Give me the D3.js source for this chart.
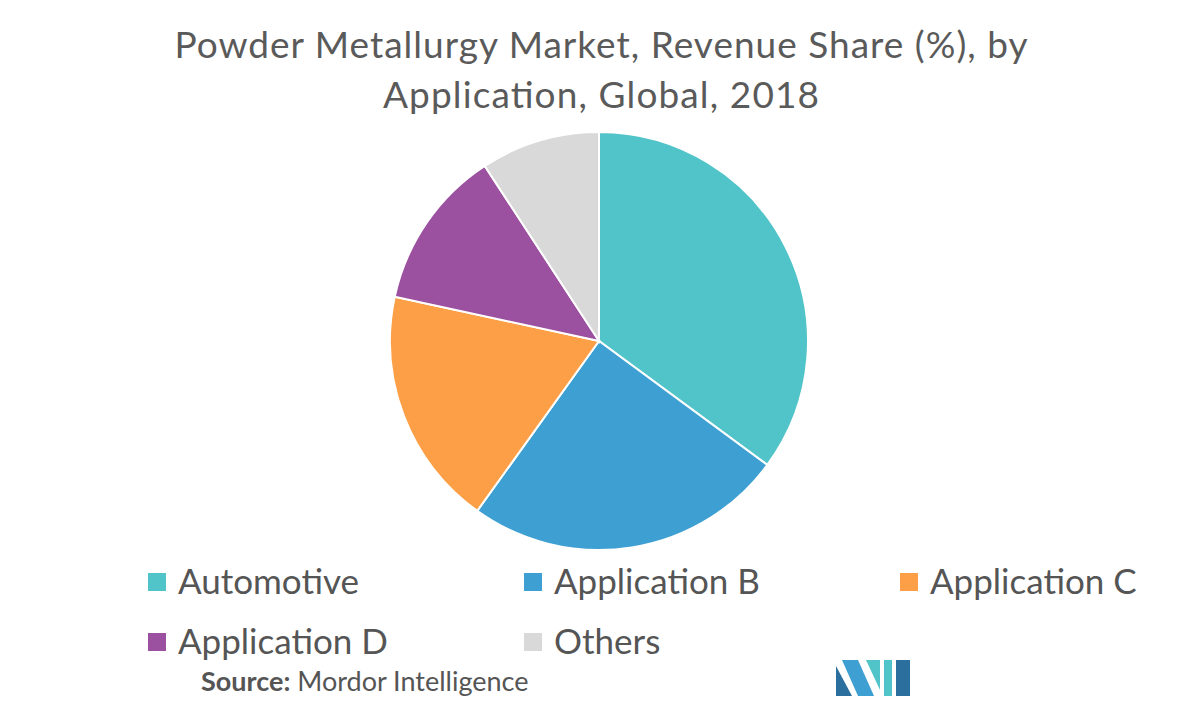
<!DOCTYPE html>
<html><head><meta charset="utf-8">
<script src="https://cdn.jsdelivr.net/npm/d3@7"></script>
<style>body{margin:0;background:#fff}svg{font-family:Lato,"Open Sans",sans-serif}</style>
</head><body><svg id="chart" width="1202" height="721"></svg>
<script>
// chart data
const categories = ['Automotive', 'Application B', 'Application C', 'Application D', 'Others'];
const shares = [35.1, 24.8, 18.5, 12.4, 9.2];
const colors = ['#51c4c9', '#3d9fd2', '#fd9f46', '#9b50a0', '#d9d9d9'];

const svg = d3.select('#chart');

// title
svg.append('text').attr('x', 601).attr('y', 58).attr('text-anchor', 'middle')
  .attr('fill', '#5a5a5a').attr('font-size', 37).attr('textLength', 853)
  .text('Powder Metallurgy Market, Revenue Share (%), by');
svg.append('text').attr('x', 601).attr('y', 108).attr('text-anchor', 'middle')
  .attr('fill', '#5a5a5a').attr('font-size', 37).attr('textLength', 436)
  .text('Application, Global, 2018');

// pie
const pie = d3.pie().sort(null).value(d => d);
const arc = d3.arc().innerRadius(0).outerRadius(209);
svg.append('g').attr('transform', 'translate(599,341)')
  .selectAll('path').data(pie(shares)).join('path')
  .attr('d', arc).attr('fill', (d, i) => colors[i])
  .attr('stroke', '#fff').attr('stroke-width', 2);

// legend
const legendX = [148, 524, 900];
const legend = svg.append('g').selectAll('g').data(categories).join('g')
  .attr('transform', (d, i) => `translate(${legendX[i % 3]},${i < 3 ? 582 : 642})`);
legend.append('rect').attr('x', 0).attr('y', -9).attr('width', 18).attr('height', 18)
  .attr('fill', (d, i) => colors[i]);
legend.append('text').attr('x', 30).attr('y', 12).attr('font-size', 35)
  .attr('fill', '#555').text(d => d);

// source
const src = svg.append('text').attr('x', 201).attr('y', 691).attr('font-size', 27).attr('fill', '#555');
src.append('tspan').attr('font-weight', 'bold').text('Source:');
src.append('tspan').text(' Mordor Intelligence');

// logo
const logo = svg.append('g').attr('transform', 'translate(836,660)');
logo.append('path').attr('d', 'M0,36 L0,6 L16,36 Z').attr('fill', '#2a6f9e');
logo.append('path').attr('d', 'M6,0 L22,0 L38,36 L22,36 Z').attr('fill', '#3d9fd2');
logo.append('path').attr('d', 'M30,0 L44,0 L44,30 Z').attr('fill', '#51c4c9');
logo.append('path').attr('d', 'M48,0 L56,0 L56,36 L48,36 Z').attr('fill', '#51c4c9');
logo.append('path').attr('d', 'M60,0 L74,0 L74,36 L60,36 Z').attr('fill', '#2a6f9e');
</script></body></html>
